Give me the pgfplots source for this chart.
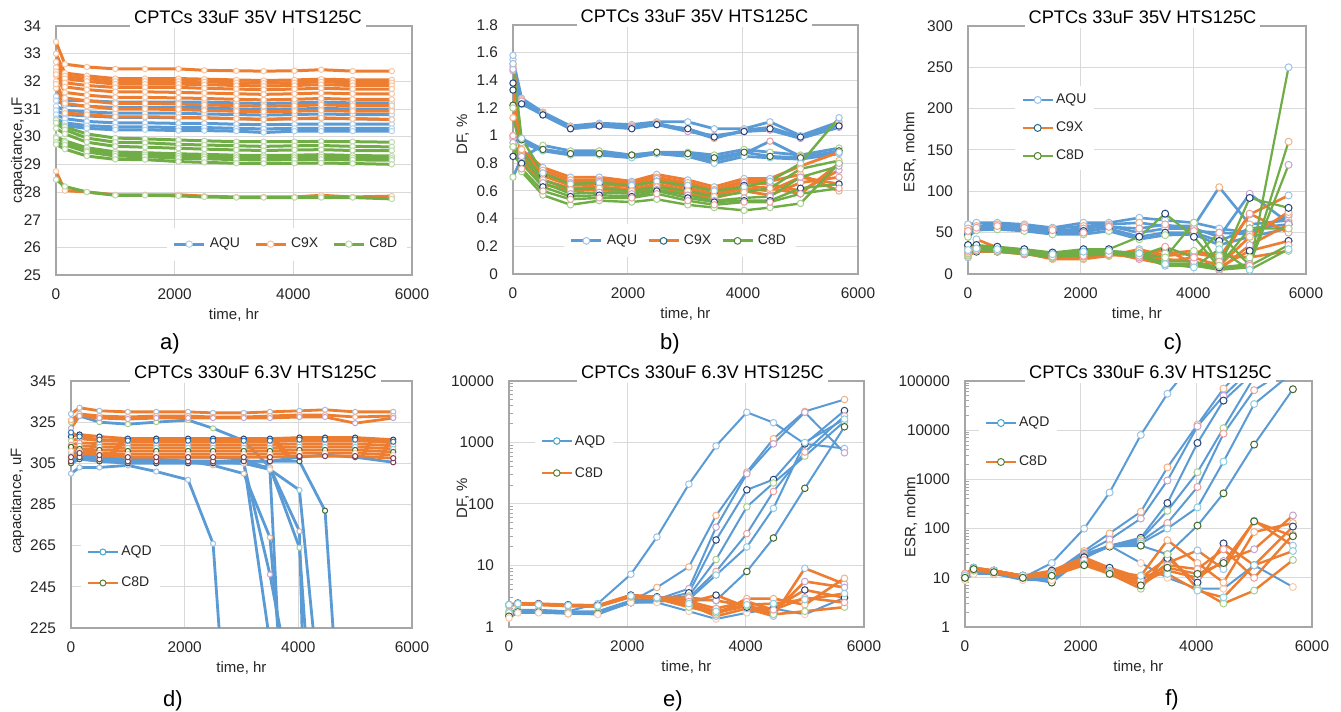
\documentclass[border=0pt]{standalone}
\usepackage{fontspec}
\setmainfont{Liberation Sans}
\usepackage{pgfplots}
\usepackage{pgfplotstable}
\pgfplotsset{compat=1.18}

\definecolor{cB}{HTML}{5B9BD5}
\definecolor{cO}{HTML}{ED7D31}
\definecolor{cG}{HTML}{70AD47}
\definecolor{grd}{HTML}{D9D9D9}
\definecolor{frm}{HTML}{A6A6A6}
\definecolor{mk1}{HTML}{9DC3E6}
\definecolor{mk2}{HTML}{F4B183}
\definecolor{mk3}{HTML}{C5A5CF}
\definecolor{mk4}{HTML}{264478}
\definecolor{mk5}{HTML}{A9D18E}
\definecolor{mk6}{HTML}{E9A1A1}
\definecolor{mk7}{HTML}{8FCFE0}
\definecolor{mk8}{HTML}{43682B}
\definecolor{mk9}{HTML}{F8CBAD}
\definecolor{mk10}{HTML}{7F3F4F}
\definecolor{mk11}{HTML}{2E75B6}
\definecolor{mk12}{HTML}{BDD7EE}
\definecolor{legteal}{HTML}{1F6C88}
\definecolor{legolive}{HTML}{548235}
\definecolor{legaq}{HTML}{3FA7C8}

% ---------------- panel a ----------------
\pgfplotstableread{
t b1 b2 b3 b4 b5 b6 b7
0 31.45 31.30 31.10 30.95 30.80 30.65 30.50
150 31.30 31.15 30.95 30.80 30.65 30.50 30.40
520 31.30 31.10 30.90 30.75 30.55 30.40 30.30
1000 31.25 31.05 30.85 30.70 30.50 30.35 30.25
1500 31.25 31.05 30.85 30.70 30.50 30.35 30.25
2065 31.25 31.05 30.85 30.68 30.48 30.33 30.22
2500 31.25 31.05 30.82 30.68 30.48 30.33 30.22
3040 31.22 31.00 30.80 30.65 30.45 30.30 30.20
3500 31.20 30.98 30.78 30.63 30.43 30.28 30.15
4020 31.22 31.00 30.80 30.65 30.45 30.30 30.20
4470 31.25 31.02 30.82 30.65 30.45 30.30 30.20
5000 31.22 31.00 30.80 30.65 30.45 30.30 30.20
5660 31.22 31.00 30.80 30.62 30.45 30.30 30.20
}\aBlue
\pgfplotstableread{
t o1 o2 o3 o4 o5 o6 o7 o8 o9 o10 o11
0 33.43 33.00 32.70 32.50 32.35 32.20 32.25 31.75 32.00 31.90 28.75
150 32.62 32.30 32.20 32.10 31.95 31.80 31.60 31.40 31.20 30.85 28.05
520 32.52 32.20 32.10 32.00 31.85 31.70 31.50 31.30 31.10 30.80 28.00
1000 32.45 32.10 32.00 31.90 31.78 31.62 31.42 31.20 31.00 30.72 27.90
1500 32.45 32.10 32.00 31.90 31.78 31.62 31.42 31.20 31.00 30.72 27.90
2065 32.45 32.10 32.00 31.90 31.78 31.60 31.40 31.18 30.98 30.70 27.90
2500 32.40 32.08 31.98 31.88 31.75 31.58 31.38 31.15 30.95 30.68 27.85
3040 32.38 32.05 31.95 31.85 31.72 31.55 31.35 31.12 30.92 30.65 27.82
3500 32.37 32.03 31.93 31.83 31.70 31.53 31.33 31.10 30.90 30.62 27.82
4020 32.38 32.05 31.95 31.85 31.72 31.55 31.35 31.12 30.92 30.65 27.82
4470 32.42 32.08 31.98 31.88 31.75 31.58 31.38 31.15 30.95 30.68 27.88
5000 32.37 32.05 31.95 31.85 31.72 31.55 31.35 31.12 30.92 30.65 27.82
5660 32.37 32.05 31.95 31.85 31.72 31.55 31.35 31.12 30.92 30.62 27.85
}\aOrange
\pgfplotstableread{
t g1 g2 g3 g4 g5 g6 g7 g8
0 30.60 30.50 30.30 30.00 29.95 29.80 29.72 28.45
150 30.35 30.25 30.10 29.85 29.80 29.70 29.55 28.20
520 30.10 29.95 29.80 29.60 29.50 29.45 29.30 28.00
1000 29.95 29.80 29.65 29.45 29.38 29.30 29.18 27.88
1500 29.92 29.78 29.62 29.42 29.35 29.28 29.17 27.88
2065 29.88 29.72 29.58 29.38 29.30 29.22 29.10 27.86
2500 29.85 29.70 29.55 29.36 29.28 29.20 29.07 27.82
3040 29.82 29.67 29.52 29.33 29.25 29.17 29.04 27.80
3500 29.82 29.65 29.50 29.32 29.25 29.16 29.03 27.80
4020 29.82 29.67 29.52 29.33 29.25 29.17 29.04 27.80
4470 29.83 29.68 29.53 29.35 29.27 29.18 29.05 27.80
5000 29.82 29.65 29.50 29.32 29.24 29.16 29.03 27.80
5660 29.80 29.63 29.50 29.30 29.22 29.15 29.00 27.75
}\aGreen

% ---------------- panel b ----------------
\pgfplotstableread{
t b1 b2 b3 b4 b5 b6 b7 b8
0 1.55 1.50 1.47 1.38 0.70 1.00 0.98 1.22
150 1.27 1.26 1.25 1.23 0.84 0.98 0.95 0.97
520 1.17 1.16 1.15 1.15 0.93 0.90 0.89 0.90
1000 1.07 1.06 1.05 1.05 0.89 0.87 0.86 0.87
1500 1.09 1.08 1.07 1.07 0.89 0.87 0.86 0.87
2065 1.08 1.07 1.06 1.05 0.86 0.85 0.84 0.86
2500 1.10 1.09 1.08 1.08 0.88 0.87 0.87 0.88
3040 1.10 1.04 1.03 1.05 0.88 0.86 0.85 0.87
3500 1.05 0.98 1.00 0.99 0.86 0.82 0.80 0.84
4020 1.05 1.04 1.03 1.03 0.90 0.87 0.85 0.88
4470 1.10 1.06 1.04 1.05 0.88 0.96 0.84 0.85
5000 1.00 0.99 0.98 0.99 0.86 0.85 0.83 0.84
5670 1.10 1.08 1.06 1.07 0.91 0.88 0.87 0.89
}\bBlue
\pgfplotstableread{
t o1 o2 o3 o4 o5 o6
0 1.58 1.52 1.48 1.33 1.20 0.92
150 0.90 0.88 0.86 0.84 0.82 0.80
520 0.77 0.75 0.73 0.71 0.68 0.65
1000 0.70 0.68 0.66 0.64 0.62 0.60
1500 0.70 0.68 0.67 0.65 0.63 0.61
2065 0.67 0.66 0.65 0.63 0.61 0.59
2500 0.72 0.70 0.69 0.67 0.65 0.63
3040 0.68 0.66 0.64 0.62 0.60 0.58
3500 0.63 0.61 0.60 0.58 0.57 0.55
4020 0.69 0.67 0.66 0.64 0.62 0.60
4470 0.69 0.67 0.65 0.62 0.60 0.57
5000 0.78 0.72 0.60 0.58 0.70 0.66
5670 0.88 0.60 0.75 0.80 0.65 0.70
}\bOrange
\pgfplotstableread{
t g1 g2 g3 g4 g5 g6
0 1.52 1.13 0.95 0.85 0.92 1.00
150 0.98 0.90 0.85 0.80 0.74 0.76
520 0.73 0.68 0.66 0.63 0.57 0.60
1000 0.65 0.61 0.58 0.56 0.50 0.54
1500 0.66 0.62 0.59 0.57 0.53 0.55
2065 0.64 0.60 0.58 0.56 0.52 0.55
2500 0.67 0.63 0.61 0.60 0.54 0.58
3040 0.64 0.60 0.57 0.55 0.50 0.53
3500 0.60 0.56 0.53 0.52 0.48 0.50
4020 0.63 0.59 0.55 0.53 0.46 0.52
4470 0.67 0.62 0.56 0.53 0.48 0.52
5000 0.80 0.76 0.70 0.62 0.51 0.58
5670 1.13 0.82 0.78 0.65 0.80 0.62
}\bGreen

% ---------------- panel c ----------------
\pgfplotstableread{
t a1 a2 a3 a4 a5 a6
0 60 55 50 47 45 52
150 62 58 55 54 53 56
520 62 60 57 55 54 58
1000 60 58 55 53 52 56
1500 56 55 52 50 48 53
2050 62 58 55 52 48 50
2500 62 60 58 55 52 57
3040 68 62 50 45 42 55
3500 65 58 55 50 47 60
4010 62 58 55 50 48 52
4460 55 105 45 40 35 50
5000 50 60 97 55 45 48
5690 70 65 62 60 55 72
}\cBlue
\pgfplotstableread{
t o1 o2 o3 o4 o5 o6
0 20 22 25 28 23 26
150 42 28 30 27 29 31
520 32 28 30 27 29 31
1000 28 25 27 24 26 28
1500 20 18 20 22 19 21
2050 20 18 22 20 19 21
2500 22 22 25 24 23 26
3040 30 28 25 20 22 18
3500 22 15 18 30 25 12
4010 25 20 15 12 28 10
4460 20 10 5 8 22 15
5000 72 45 35 28 20 73
5690 95 75 60 40 28 50
}\cOrange
\pgfplotstableread{
t g1 g2 g3 g4 g5 g6 g7
0 30 32 28 35 25 27 29
150 32 33 30 35 28 29 31
520 30 32 29 33 27 28 30
1000 27 29 26 30 24 25 27
1500 23 25 22 26 20 21 24
2050 25 28 24 30 26 22 27
2500 25 28 26 30 27 24 28
3040 22 25 20 45 25 22 25
3500 10 12 15 73 20 33 12
4010 10 12 15 45 62 20 8
4460 5 6 8 8 10 50 30
5000 8 10 12 92 55 10 5
5690 250 160 132 80 55 35 30
}\cGreen

% ---------------- panel d ----------------
\pgfplotstableread{
t d1 d2 d3 d4 d5 d6 d7 d8 d9 d10
0 300 309 308 307 325 306 310 305 307 306
150 303 311 310 309 328 308 312 307 309 308
500 303 308 307 306 325 306 309 306 307 307
1000 304 307 306 305 324 306 308 306 306 306
1500 301 307 306 305 325 306 308 306 306 306
2060 297 306 306 305 326 306 308 306 306 306
2500 266 304 305 305 322 306 308 306 306 306
3040 55 300 305 306 316 305 307 306 305 306
3500 nan 269 251 218 303 303 302 306 302 306
4020 nan 105 175 nan 264 272 292 306 20 308
4470 nan nan nan nan 84 -200 166 282 nan 309
5000 nan nan nan nan nan nan nan 66 nan 308
5670 nan nan nan nan nan nan nan nan nan 305.5
}\dBlue
\pgfplotstableread{
t e1 e2 e3 e4 e5 e6 e7 e8 e9 e10 e11
0 329 326 322 318 316 314 312 313 311 308 320
150 332 329 328 319 317 315 313.5 312 311 310 318
500 330.5 328 327 318 316 314.5 313 311.5 310 309 316.5
1000 330 327.5 326.5 317 315.5 314 312.5 311 309.5 308 316
1500 330 328 327 317 315.5 314 312.5 311 309.5 308 316
2060 330 328 327 317 315.5 314 312.5 311 309.5 308 316
2500 329.5 327.5 327 317 315.5 314 312.5 311 309.5 308 316
3040 329.5 327.5 327 317 315.5 314 312.5 311 309.5 308 316
3500 330 328 327 317 315.5 314 312.5 311 309.5 308 316
4020 330.5 328.5 327.5 317.5 316 314.5 313 311.5 310 308.5 316.5
4470 331 328.5 327.5 317.5 316 314.5 313 311.5 310 308.5 316.5
5000 330 327.5 324.5 317.5 316 314.5 313 311.5 310 308.5 316.5
5670 330 328 327 316.5 315 313.5 312 310.5 309 307.5 315.5
}\dOrange

% ---------------- panel e ----------------
\pgfplotstableread{
t l1 l2 l3 l4 l5 l6 l7 l8 l9
0 1.5 1.6 1.7 1.5 1.8 1.6 1.7 1.5 1.4
150 1.85 1.8 1.85 1.75 1.9 1.8 1.8 1.75 1.7
500 1.85 1.8 1.8 1.75 1.9 1.8 1.8 1.75 1.7
1000 1.8 1.75 1.75 1.7 1.8 1.7 1.7 1.65 1.65
1500 2.4 1.75 1.7 1.7 1.8 1.7 1.7 1.65 1.6
2060 7.2 2.6 2.6 2.5 2.7 2.5 2.5 2.5 2.5
2500 29 4.4 2.8 2.7 2.8 2.6 2.7 2.6 2.5
3040 210 9.5 4.2 3.6 3.2 3.0 2.8 2.7 1.8
3500 880 65 42 26 12.5 8 7 2.7 1.35
4020 3100 330 310 170 90 33 20 8 1.7
4470 2100 1150 950 250 220 160 85 28 2.0
5000 950 3200 3100 950 600 700 1000 180 1.6
5670 800 5000 680 3300 2200 2700 2400 1800 3.0
}\eBlue
\pgfplotstableread{
t r1 r2 r3 r4 r5 r6 r7
0 2.3 2.2 2.25 2.3 2.2 2.25 2.3
150 2.4 2.35 2.4 2.45 2.35 2.4 2.4
500 2.35 2.3 2.35 2.4 2.3 2.35 2.3
1000 2.25 2.2 2.25 2.3 2.2 2.2 2.25
1500 2.2 2.15 2.2 2.25 2.15 2.2 2.2
2060 3.3 3.1 3.2 3.3 3.1 3.2 3.2
2500 3.0 2.9 3.0 3.1 2.9 3.0 3.0
3040 2.3 2.2 3.0 2.5 2.1 2.6 2.4
3500 1.5 1.6 2.7 3.3 1.7 2.0 1.8
4020 2.0 2.9 2.2 2.1 2.2 2.6 2.3
4470 1.5 2.9 1.7 2.0 1.6 1.9 2.4
5000 9.0 2.3 5.5 4.0 1.8 3.0 2.8
5670 5.0 6.2 4.4 3.0 2.1 2.5 3.5
}\eOrange

% ---------------- panel f ----------------
\pgfplotstableread{
t f1 f2 f3 f4 f5 f6 f7 f8 f9
0 10 11 12 11 10 12 10 11 9
150 13 14 15 14 13 14 13 13 12
500 12 13 13 13 12 13 12 12 12
1000 10 11 11 10 10 11 10 10 9
1500 20 12 11 10 9 10 9 8 9
2060 100 35 32 30 30 28 27 26 25
2500 540 80 60 45 45 45 44 43 45
3040 8000 220 160 65 60 55 50 45 20
3500 55000 1750 950 330 230 130 100 30 10
4020 300000 13000 12000 5500 1400 700 270 115 6
4470 nan 70000 50000 40000 11000 8500 2300 520 6
5000 nan 300000 200000 150000 120000 65000 34000 5100 18
5670 nan nan nan nan nan 200000 150000 68000 6.5
}\fBlue
\pgfplotstableread{
t p1 p2 p3 p4 p5 p6 p7 p8
0 11 12 10 11 10 12 11 10
150 15 16 15 16 14 15 16 15
500 14 14 13 14 13 14 14 13
1000 11 11 10 11 10 11 11 10
1500 13 12 13 14 12 13 12 11
2060 24 22 20 26 21 23 19 18
2500 14 13 15 16 12 14 13 12
3040 7 11 8 10 6 9 11 7
3500 20 58 14 25 30 18 12 16
4020 36 20 10 8 6 15 5.5 12
4470 15 8 22 50 3 38 4 20
5000 145 85 38 18 5.5 10 18 140
5670 45 130 185 110 23 75 35 70
}\fOrange

\pgfplotsset{
  excel/.style={
    scale only axis, anchor=south west,
    xmin=0, xmax=6000,
    xtick={0,2000,4000,6000}, xticklabels={0,2000,4000,6000},
    grid=major,
    major grid style={draw=grd, line width=0.5pt},
    axis line style={draw=frm, line width=0.6pt},
    major tick length=0pt, minor tick length=2pt,
    tick style={draw=frm, line width=0.5pt},
    tick align=inside,
    xtick pos=bottom, ytick pos=left,
    tick label style={font=\fontsize{7.7}{9}\selectfont, text=black!85},
    xticklabel style={yshift=-3.5pt},
    yticklabel style={xshift=-4pt},
    xlabel={time, hr},
    xlabel style={font=\fontsize{7.5}{9}\selectfont, text=black!85, at={(axis description cs:0.5,0)}, anchor=center, yshift=-20pt},
    ylabel style={font=\fontsize{7.5}{9}\selectfont, text=black!85, anchor=center},
    every axis title shift=0pt,
    title style={font=\fontsize{9.1}{10}\selectfont, fill=white, inner xsep=2pt, inner ysep=2.5pt, at={(axis description cs:0.5,1)}, anchor=center, yshift=4.5pt},
    legend style={draw=none, fill=white, font=\fontsize{7}{8}\selectfont, text=black!85, anchor=center, inner xsep=3pt, inner ysep=3pt},
    legend cell align=left,
    legend image code/.code={\draw[mark repeat=2,mark phase=2,##1] plot coordinates {(0pt,0pt) (7.5pt,0pt) (15pt,0pt)};},
  },
}

\begin{document}
\begin{tikzpicture}
\useasboundingbox (0,0) rectangle (670.5pt,356pt);

% ===== a =====
\begin{axis}[excel, at={(28pt,218.5pt)}, width=178pt, height=124.5pt,
  ymin=25, ymax=34, ytick={25,26,27,28,29,30,31,32,33,34},
  yticklabels={25,26,27,28,29,30,31,32,33,34},
  title={CPTCs 33uF 35V HTS125C}, title style={xshift=7pt},
  ylabel={capacitance, uF}, ylabel style={at={(axis description cs:-0.107,0.5)}},
  legend columns=3,
  legend style={at={(axis description cs:0.649,0.124)}, /tikz/every even column/.append style={column sep=5pt}}]
\pgfplotsinvokeforeach{1,...,7}{\addplot[forget plot, cB, line width=1.5pt, mark=*, mark size=1.35pt, mark options={fill=white, draw=cB!45!white, line width=0.5pt}] table[x=t,y=b#1]{\aBlue};}
\pgfplotsinvokeforeach{1,...,11}{\addplot[forget plot, cO, line width=1.5pt, mark=*, mark size=1.35pt, mark options={fill=white, draw=cO!45!white, line width=0.5pt}] table[x=t,y=o#1]{\aOrange};}
\pgfplotsinvokeforeach{1,...,8}{\addplot[forget plot, cG, line width=1.5pt, mark=*, mark size=1.35pt, mark options={fill=white, draw=cG!45!white, line width=0.5pt}] table[x=t,y=g#1]{\aGreen};}
\addlegendimage{cB, line width=1.5pt, mark=*, mark size=1.6pt, mark options={fill=white, draw=cB!45!white, line width=0.5pt}}
\addlegendentry{AQU}
\addlegendimage{cO, line width=1.5pt, mark=*, mark size=1.6pt, mark options={fill=white, draw=cO!45!white, line width=0.5pt}}
\addlegendentry{C9X}
\addlegendimage{cG, line width=1.5pt, mark=*, mark size=1.6pt, mark options={fill=white, draw=cG!45!white, line width=0.5pt}}
\addlegendentry{C8D}
\end{axis}

% ===== b =====
\begin{axis}[excel, at={(256.5pt,219pt)}, width=172.5pt, height=124.5pt,
  ymin=0, ymax=1.8, ytick={0,0.2,0.4,0.6,0.8,1,1.2,1.4,1.6,1.8},
  yticklabels={0,0.2,0.4,0.6,0.8,1,1.2,1.4,1.6,1.8},
  title={CPTCs 33uF 35V HTS125C}, title style={xshift=4.5pt},
  ylabel={DF, \%}, ylabel style={at={(axis description cs:-0.145,0.56)}},
  legend columns=3,
  legend style={at={(axis description cs:0.484,0.133)}, /tikz/every even column/.append style={column sep=3pt}}]
\pgfplotsinvokeforeach{1,...,8}{\addplot[forget plot, cB, line width=1.4pt, mark=*, mark size=1.6pt, mark options={fill=white, draw=mk#1, line width=0.5pt}] table[x=t,y=b#1]{\bBlue};}
\pgfplotsinvokeforeach{1,...,6}{\addplot[forget plot, cO, line width=1.4pt, mark=*, mark size=1.6pt, mark options={fill=white, draw=mk#1, line width=0.5pt}] table[x=t,y=o#1]{\bOrange};}
\pgfplotsinvokeforeach{1,...,6}{\addplot[forget plot, cG, line width=1.2pt, mark=*, mark size=1.6pt, mark options={fill=white, draw=mk#1, line width=0.5pt}] table[x=t,y=g#1]{\bGreen};}
\addlegendimage{cB, line width=1.4pt, mark=*, mark size=1.7pt, mark options={fill=white, draw=mk1, line width=0.5pt}}
\addlegendentry{AQU}
\addlegendimage{cO, line width=1.4pt, mark=*, mark size=1.7pt, mark options={fill=white, draw=legteal, line width=0.5pt}}
\addlegendentry{C9X}
\addlegendimage{cG, line width=1.4pt, mark=*, mark size=1.7pt, mark options={fill=white, draw=legolive, line width=0.5pt}}
\addlegendentry{C8D}
\end{axis}

% ===== c =====
\begin{axis}[excel, at={(484pt,219pt)}, width=169pt, height=124pt,
  ymin=0, ymax=300, ytick={0,50,100,150,200,250,300},
  yticklabels={0,50,100,150,200,250,300},
  title={CPTCs 33uF 35V HTS125C}, title style={xshift=2.75pt},
  ylabel={ESR, mohm}, ylabel style={at={(axis description cs:-0.172,0.49)}},
  legend style={at={(axis description cs:0.257,0.589)}, row sep=6pt, nodes={inner sep=1pt, text height=5pt, text depth=1pt}}]
\pgfplotsinvokeforeach{1,...,6}{\addplot[forget plot, cB, line width=1.3pt, mark=*, mark size=1.75pt, mark options={fill=white, draw=mk#1, line width=0.5pt}] table[x=t,y=a#1]{\cBlue};}
\pgfplotsinvokeforeach{1,...,6}{\addplot[forget plot, cO, line width=1.3pt, mark=*, mark size=1.75pt, mark options={fill=white, draw=mk#1, line width=0.5pt}] table[x=t,y=o#1]{\cOrange};}
\pgfplotsinvokeforeach{1,...,7}{\addplot[forget plot, cG, line width=1.1pt, mark=*, mark size=1.75pt, mark options={fill=white, draw=mk#1, line width=0.5pt}] table[x=t,y=g#1]{\cGreen};}
\addlegendimage{cB, line width=1.4pt, mark=*, mark size=1.75pt, mark options={fill=white, draw=mk1, line width=0.5pt}}
\addlegendentry{AQU}
\addlegendimage{cO, line width=1.4pt, mark=*, mark size=1.75pt, mark options={fill=white, draw=legteal, line width=0.5pt}}
\addlegendentry{C9X}
\addlegendimage{cG, line width=1.4pt, mark=*, mark size=1.75pt, mark options={fill=white, draw=legolive, line width=0.5pt}}
\addlegendentry{C8D}
\end{axis}

% ===== d =====
\begin{axis}[excel, at={(35.5pt,42pt)}, width=170.5pt, height=123.5pt,
  ymin=225, ymax=345, ytick={225,245,265,285,305,325,345},
  yticklabels={225,245,265,285,305,325,345},
  title={CPTCs 330uF 6.3V HTS125C}, title style={xshift=7pt},
  ylabel={capacitance, uF}, ylabel style={at={(axis description cs:-0.158,0.514)}},
  legend style={at={(axis description cs:0.144,0.245)}, row sep=7.5pt, nodes={inner sep=1pt, text height=5pt, text depth=1pt}}]
\pgfplotsinvokeforeach{1,...,10}{\addplot[forget plot, cB, line width=1.4pt, mark=*, mark size=1.3pt, mark options={fill=white, draw=mk#1, line width=0.5pt}] table[x=t,y=d#1]{\dBlue};}
\pgfplotsinvokeforeach{1,...,11}{\addplot[forget plot, cO, line width=1.4pt, mark=*, mark size=1.3pt, mark options={fill=white, draw=mk#1, line width=0.5pt}] table[x=t,y=e#1]{\dOrange};}
\addlegendimage{cB, line width=1.4pt, mark=*, mark size=1.5pt, mark options={fill=white, draw=legaq, line width=0.5pt}}
\addlegendentry{AQD}
\addlegendimage{cO, line width=1.4pt, mark=*, mark size=1.5pt, mark options={fill=white, draw=legolive, line width=0.5pt}}
\addlegendentry{C8D}
\end{axis}

% ===== e =====
\begin{axis}[excel, at={(254.5pt,42.5pt)}, width=177.5pt, height=123pt,
  ymode=log, ymin=1, ymax=10000, ytick={1,10,100,1000,10000},
  yticklabels={1,10,100,1000,10000},
  minor ytick={2,3,4,5,6,7,8,9,20,30,40,50,60,70,80,90,200,300,400,500,600,700,800,900,2000,3000,4000,5000,6000,7000,8000,9000},
  title={CPTCs 330uF 6.3V HTS125C}, title style={xshift=8pt},
  ylabel={DF, \%}, ylabel style={at={(axis description cs:-0.13,0.524)}},
  legend style={at={(axis description cs:0.183,0.691)}, row sep=8pt, nodes={inner sep=1pt, text height=5pt, text depth=1pt}}]
\pgfplotsinvokeforeach{1,...,9}{\addplot[forget plot, cB, line width=1.0pt, mark=*, mark size=1.65pt, mark options={fill=white, draw=mk#1, line width=0.5pt}] table[x=t,y=l#1]{\eBlue};}
\pgfplotsinvokeforeach{1,...,7}{\addplot[forget plot, cO, line width=1.3pt, mark=*, mark size=1.65pt, mark options={fill=white, draw=mk#1, line width=0.5pt}] table[x=t,y=r#1]{\eOrange};}
\addlegendimage{cB, line width=1.2pt, mark=*, mark size=1.65pt, mark options={fill=white, draw=legaq, line width=0.5pt}}
\addlegendentry{AQD}
\addlegendimage{cO, line width=1.2pt, mark=*, mark size=1.65pt, mark options={fill=white, draw=legolive, line width=0.5pt}}
\addlegendentry{C8D}
\end{axis}

% ===== f =====
\begin{axis}[excel, at={(482.5pt,42.5pt)}, width=173.5pt, height=123pt,
  ymode=log, ymin=1, ymax=100000, ytick={1,10,100,1000,10000,100000},
  yticklabels={1,10,100,1000,10000,100000},
  minor ytick={2,3,4,5,6,7,8,9,20,30,40,50,60,70,80,90,200,300,400,500,600,700,800,900,2000,3000,4000,5000,6000,7000,8000,9000,20000,30000,40000,50000,60000,70000,80000,90000},
  title={CPTCs 330uF 6.3V HTS125C}, title style={xshift=6pt},
  ylabel={ESR, mohm}, ylabel style={at={(axis description cs:-0.156,0.447)}},
  legend style={at={(axis description cs:0.153,0.75)}, row sep=11.5pt, nodes={inner sep=1pt, text height=5pt, text depth=1pt}}]
\pgfplotsinvokeforeach{1,...,9}{\addplot[forget plot, cB, line width=1.0pt, mark=*, mark size=1.75pt, mark options={fill=white, draw=mk#1, line width=0.5pt}] table[x=t,y=f#1]{\fBlue};}
\pgfplotsinvokeforeach{1,...,8}{\addplot[forget plot, cO, line width=1.2pt, mark=*, mark size=1.75pt, mark options={fill=white, draw=mk#1, line width=0.5pt}] table[x=t,y=p#1]{\fOrange};}
\addlegendimage{cB, line width=1.2pt, mark=*, mark size=1.75pt, mark options={fill=white, draw=legaq, line width=0.5pt}}
\addlegendentry{AQD}
\addlegendimage{cO, line width=1.2pt, mark=*, mark size=1.75pt, mark options={fill=white, draw=legolive, line width=0.5pt}}
\addlegendentry{C8D}
\end{axis}

\node[font=\fontsize{11}{12}\selectfont] at (85pt,184pt) {a)};
\node[font=\fontsize{11}{12}\selectfont] at (335pt,184pt) {b)};
\node[font=\fontsize{11}{12}\selectfont] at (586.5pt,184pt) {c)};
\node[font=\fontsize{11}{12}\selectfont] at (86.5pt,5.5pt) {d)};
\node[font=\fontsize{11}{12}\selectfont] at (336.5pt,5.5pt) {e)};
\node[font=\fontsize{11}{12}\selectfont] at (586pt,6pt) {f)};
\end{tikzpicture}
\end{document}
